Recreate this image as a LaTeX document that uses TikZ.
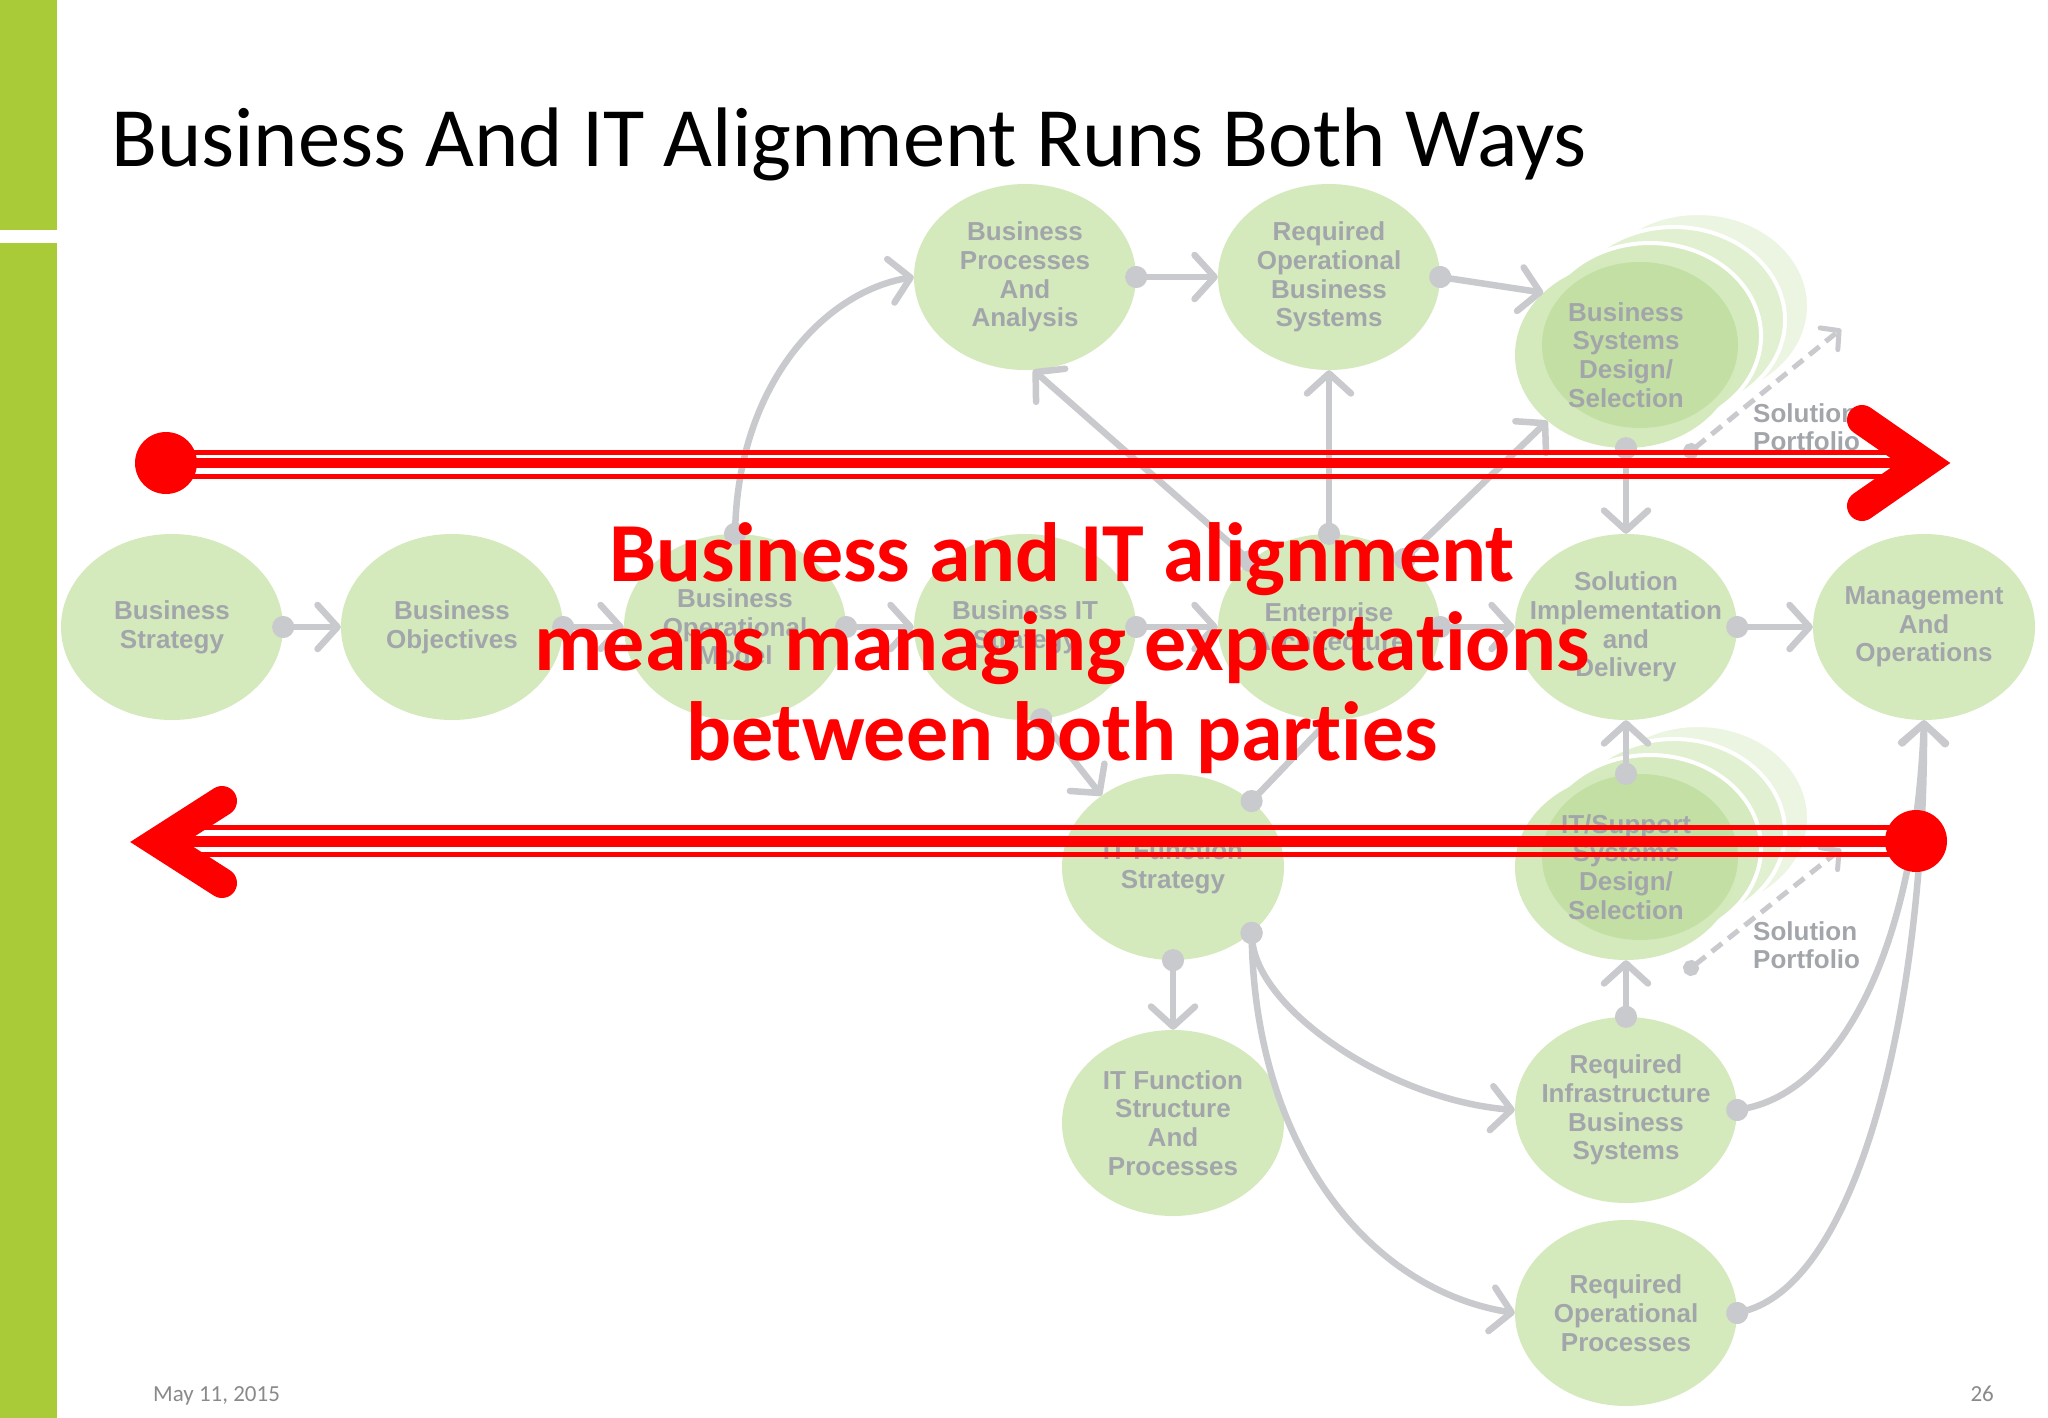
\documentclass[tikz,border=0pt]{standalone}
\usepackage{fontspec}
\setmainfont{Carlito}
\newfontfamily\msgfont{Carlito}[Ligatures=NoCommon]
\newfontfamily\nodefont{Liberation Sans}
\usetikzlibrary{shapes.geometric,arrows.meta}
\definecolor{barGreen}{HTML}{A9CB37}
\definecolor{bubbleGreen}{HTML}{D4E9BC}
\definecolor{innerGreen}{HTML}{BADB96}
\definecolor{textGray}{HTML}{A2A6AB}
\definecolor{lineGray}{HTML}{C9CACD}
\definecolor{alertRed}{HTML}{FF0000}
\definecolor{footGray}{HTML}{8A8A8A}
\begin{document}
\begin{tikzpicture}[x=1pt,y=-1pt,
  bubble/.style={ellipse, fill=bubbleGreen, minimum width=222pt, minimum height=186pt, inner sep=0pt},
  lbl/.style={font=\nodefont\bfseries\fontsize{26}{28.7}\selectfont, text=textGray, align=center, inner sep=0pt},
  conn/.style={draw=lineGray, line width=6.5pt, {Circle[length=22pt]}-{Straight Barb[length=20pt,width=44pt,round]}, shorten <=-11pt},
  dotline/.style={draw=lineGray, line width=6.5pt, {Circle[length=22pt]}-, shorten <=-11pt},
  dconn/.style={draw=lineGray, line width=5pt, dash pattern=on 13pt off 8pt, {Circle[length=16pt]}-{Straight Barb[length=13pt,width=28pt,round]}, shorten <=-8pt},
  layer/.style={ellipse, minimum width=222pt, minimum height=186pt, inner sep=0pt, draw=white, line width=4pt},
  inner/.style={ellipse, fill=innerGreen, fill opacity=0.65, minimum width=196pt, minimum height=166pt, inner sep=0pt},
  reddot/.style={circle, fill=alertRed, minimum size=62pt, inner sep=0pt},
  redline/.style={draw=alertRed},
  chevron/.style={draw=alertRed, line width=30pt, line cap=round, line join=miter}
]
\useasboundingbox (0,0) rectangle (2048,1418);
\fill[white] (0,0) rectangle (2048,1418);
% side bar
\fill[barGreen] (0,0) rectangle (57,230);
\fill[barGreen] (0,243) rectangle (57,1418);

% title
\node[anchor=base west, inner sep=0pt, font=\fontsize{84.5}{90}\selectfont] (title) at (111,167) {Business And IT Alignment Runs Both Ways};

% stacked layers behind design/selection bubbles
\node[layer, fill=bubbleGreen!45] (bsdl3) at (1698,306) {};
\node[layer, fill=bubbleGreen!70] (bsdl2) at (1674,320) {};
\node[layer, fill=bubbleGreen!95] (bsdl1) at (1650,336) {};
\node[ellipse, fill=bubbleGreen, minimum width=222pt, minimum height=186pt, inner sep=0pt] (bsdf) at (1626,355) {};
\node[inner] (bsdi) at (1640,345) {};

\node[layer, fill=bubbleGreen!45] (itsl3) at (1698,818) {};
\node[layer, fill=bubbleGreen!70] (itsl2) at (1674,832) {};
\node[layer, fill=bubbleGreen!95] (itsl1) at (1650,848) {};
\node[ellipse, fill=bubbleGreen, minimum width=222pt, minimum height=186pt, inner sep=0pt] (itsf) at (1626,867) {};
\node[inner] (itsi) at (1640,857) {};

% bubbles
\node[bubble, label={[lbl]center:{Business\\Strategy}}] (bs) at (172,627) {};
\node[bubble, label={[lbl]center:{Business\\Objectives}}] (bo) at (452,627) {};
\node[bubble, label={[lbl]center:{Business\\Operational\\Model}}] (bom) at (735,627) {};
\node[bubble, label={[lbl]center:{Business IT\\Strategy}}] (bit) at (1025,627) {};
\node[bubble, label={[lbl]center:{Enterprise\\Architecture}}] (ea) at (1329,627) {};
\node[bubble, label={[lbl]center:{Solution\\Implementation\\and\\Delivery}}] (sid) at (1626,627) {};
\node[bubble, label={[lbl]center:{Management\\And\\Operations}}] (mo) at (1924,627) {};
\node[bubble, label={[lbl]center:{Business\\Processes\\And\\Analysis}}] (bpa) at (1025,277) {};
\node[bubble, label={[lbl]center:{Required\\Operational\\Business\\Systems}}] (rob) at (1329,277) {};
\node[bubble, fill=none, label={[lbl]center:{Business\\Systems\\Design/\\Selection}}] (bsd) at (1626,355) {};
\node[bubble, label={[lbl]center:{IT Function\\Strategy}}] (ifs) at (1173,867) {};
\node[bubble, fill=none, label={[lbl]center:{IT/Support\\Systems\\Design/\\Selection}}] (its) at (1626,867) {};
\node[bubble, label={[lbl]center:{IT Function\\Structure\\And\\Processes}}] (ifsp) at (1173,1123) {};
\node[bubble, label={[lbl]center:{Required\\Infrastructure\\Business\\Systems}}] (rib) at (1626,1110) {};
\node[bubble, label={[lbl]center:{Required\\Operational\\Processes}}] (rop) at (1626,1313) {};

% connectors
\draw[conn] (bs.0) -- (bo.180);
\draw[conn] (bo.0) -- (bom.180);
\draw[conn] (bom.0) -- (bit.180);
\draw[conn] (bit.0) -- (ea.180);
\draw[conn] (ea.0) -- (sid.180);
\draw[conn] (sid.0) -- (mo.180);
\draw[conn] (bom.90) .. controls +(5,-150) and +(-90,15) .. (bpa.180);
\draw[conn] (bpa.0) -- (rob.180);
\draw[conn] (rob.0) -- (bsd.143);
\draw[conn] (ea.90) -- (rob.270);
\draw[conn] (ea.140) -- (bpa.-85);
\draw[conn] (ea.42) -- (bsd.-140);
\draw[conn] (bsd.270) -- (sid.90);
\draw[conn] (its.90) -- (sid.270);
\draw[conn] (rib.90) -- (its.270);
\draw[conn] (ifs.270) -- (ifsp.90);
\draw[conn] (bit.-80) -- (ifs.135);
\draw[dotline] (ifs.40) -- (ea.270);
\draw[conn] (ifs.-40) .. controls +(7,77) and +(-125,-10) .. (rib.180);
\draw[conn] (ifs.-40) .. controls +(5,217) and +(-145,-23) .. (rop.180);
\draw[conn] (rib.0) .. controls +(103,-20) and +(-9,230) .. (mo.270);
\draw[conn] (rop.0) .. controls +(123,-33) and +(1,280) .. (mo.270);

% solution portfolio dashed arrows
\coordinate (bsds) at ([shift={(65,96)}]bsd.center);
\coordinate (bsdp) at (1841,329);
\coordinate (itss) at ([shift={(65,101)}]its.center);
\coordinate (itsp) at (1841,849);
\draw[dconn] (bsds) -- (bsdp);
\draw[dconn] (itss) -- (itsp);
\node[lbl, align=left, anchor=north west] (sp1) at (1753,403) {Solution\\Portfolio};
\node[lbl, align=left, anchor=north west] (sp2) at (1753,921) {Solution\\Portfolio};

% upper red arrow (left to right)
\node[reddot] (rd1) at (166,463) {};
\coordinate (rt1) at (1924,463);
\draw[redline, line width=5pt] (rd1.center |- 0,452.5) -- (1905,452.5);
\draw[redline, line width=10pt] (rd1.center) -- (1910,463);
\draw[redline, line width=5pt] (rd1.center |- 0,476.5) -- (1905,476.5);
\draw[chevron] (1862,420) -- (rt1) -- (1862,506);

% lower red arrow (right to left)
\node[reddot] (rd2) at (1916,841) {};
\coordinate (rt2) at (158,842);
\draw[redline, line width=5pt] (rd2.center |- 0,827.5) -- (200,827.5);
\draw[redline, line width=11pt] (rd2.center) -- (175,841);
\draw[redline, line width=5pt] (rd2.center |- 0,854.5) -- (200,854.5);
\draw[chevron] (222,801) -- (rt2) -- (222,883);

% red message
\node[anchor=base, inner sep=0pt, align=center, text=alertRed, font=\msgfont\bfseries\fontsize{84}{89.5}\selectfont] (msg) at (1062,760) {Business and IT alignment\\means managing expectations\\between both parties};

% footer
\node[anchor=base west, inner sep=0pt, text=footGray, font=\fontsize{23}{26}\selectfont] (date) at (153,1401) {May 11, 2015};
\node[anchor=base east, inner sep=0pt, text=footGray, font=\fontsize{23}{26}\selectfont] (page) at (1994,1401) {26};
\end{tikzpicture}
\end{document}
